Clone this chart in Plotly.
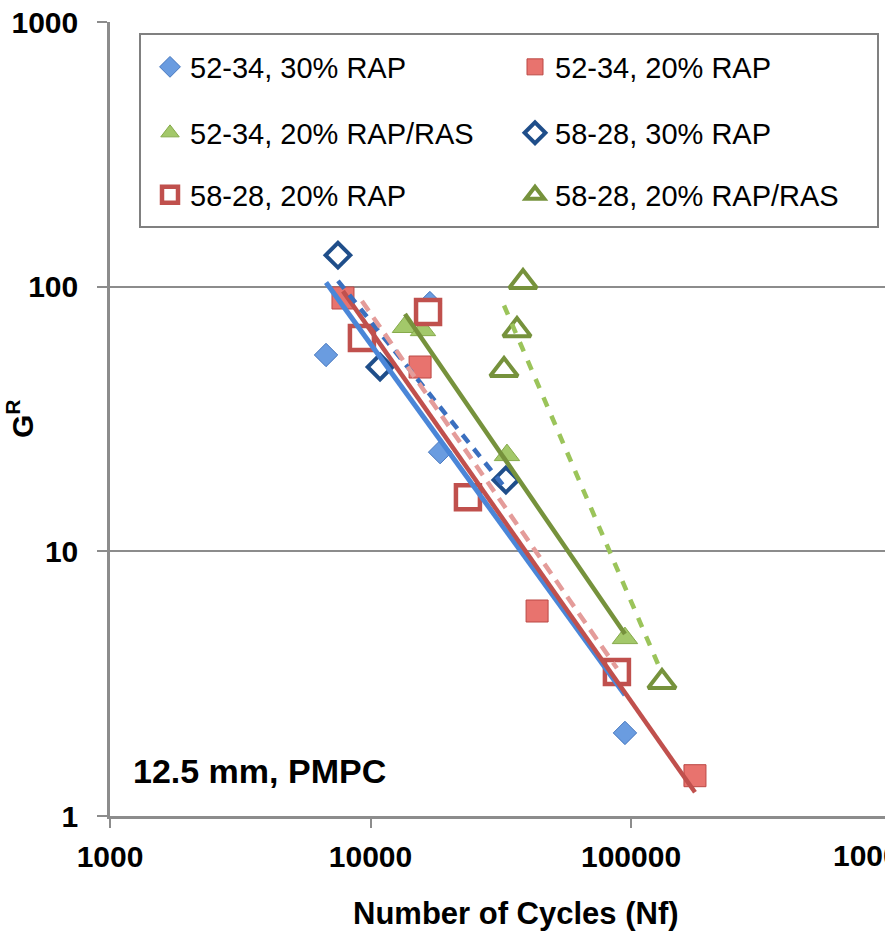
import numpy as np
import plotly.graph_objects as go

# ---------------- data ----------------
series_names = ["52-34, 30% RAP", "52-34, 20% RAP", "52-34, 20% RAP/RAS",
                "58-28, 30% RAP", "58-28, 20% RAP", "58-28, 20% RAP/RAS"]

s1_x = [6750, 16900, 18500, 94800]
s1_y = [55.2, 86.7, 23.7, 2.06]

s2_x = [7840, 15500, 43600, 176000]
s2_y = [90.6, 49.7, 5.95, 1.42]

s3_x = [13560, 15900, 33400, 94800]
s3_y = [70.4, 68.5, 23.1, 4.70]

s4_x = [7500, 10880, 33100]
s4_y = [131.5, 49.7, 18.6]

s5_x = [9270, 16630, 23660, 88300]
s5_y = [64.0, 80.2, 16.0, 3.50]

s6_x = [38500, 36500, 32550, 131500]
s6_y = [104.1, 68.5, 48.4, 3.21]

x_tickvals = [1000, 10000, 100000]
x_ticktext = ["1000", "10000", "100000"]
x_last_tick = "1000000"
y_tickvals = [1, 10, 100, 1000]
y_ticktext = ["1", "10", "100", "1000"]

# ---------------- styles ----------------
FONT = "Liberation Sans, Arial, sans-serif"
GRID = "#8C8C8C"

marker_styles = [
    dict(symbol="diamond", size=18, color="#6A9CE0", line=dict(color="#4576BE", width=1)),
    dict(symbol="square", size=22, color="#E8736E", line=dict(color="#BB4844", width=1)),
    dict(symbol="triangle-up", size=22, color="#A3C86A", line=dict(color="#86AA4B", width=1)),
    dict(symbol="diamond", size=19, color="white", line=dict(color="#1F4E8A", width=4)),
    dict(symbol="square", size=24, color="white", line=dict(color="#C0504D", width=4.5)),
    dict(symbol="triangle-up", size=24, color="white", line=dict(color="#76923C", width=4)),
]
trend_styles = [
    dict(color="#4A86D8", width=5, dash="solid"),
    dict(color="#C0504D", width=4.5, dash="solid"),
    dict(color="#76923C", width=4.5, dash="solid"),
    dict(color="#3A6FBF", width=4.5, dash="10px,8px"),
    dict(color="#E49C9A", width=4.5, dash="12px,8px"),
    dict(color="#9BC45A", width=4.5, dash="10px,10px"),
]

xs = [s1_x, s2_x, s3_x, s4_x, s5_x, s6_x]
ys = [s1_y, s2_y, s3_y, s4_y, s5_y, s6_y]
legend_ids = ["legend", "legend", "legend2", "legend2", "legend3", "legend3"]

fig = go.Figure()

for name, x, y, ms, lg in zip(series_names, xs, ys, marker_styles, legend_ids):
    fig.add_trace(go.Scatter(x=x, y=y, mode="markers", name=name, marker=ms,
                             legend=lg, showlegend=True))

# power-law trendlines (least squares in log-log space), drawn over markers
for x, y, ls in zip(xs, ys, trend_styles):
    lx, ly = np.log10(x), np.log10(y)
    b, a = np.polyfit(lx, ly, 1)
    xe = np.array([min(x), max(x)], dtype=float)
    ye = 10 ** (a + b * np.log10(xe))
    fig.add_trace(go.Scatter(x=xe, y=ye, mode="lines", line=ls,
                             showlegend=False, hoverinfo="skip"))

# ---------------- layout ----------------
L, T, R, B = 110, 22, 0, 121
W, H = 885, 937
pw, ph = W - L - R, H - T - B
decade_px = 260.5
x_max_log = 3 + pw / decade_px


def px_x(p):
    return (p - L) / pw


def px_y(p):
    return (T + ph - p) / ph


legend_common = dict(orientation="h", xanchor="left", yanchor="middle",
                     bgcolor="rgba(0,0,0,0)", borderwidth=0,
                     font=dict(family=FONT, size=29, color="black"),
                     entrywidth=320, entrywidthmode="pixels", itemclick=False)

fig.update_layout(
    width=W, height=H,
    margin=dict(l=L, r=R, t=T, b=B),
    paper_bgcolor="white", plot_bgcolor="white",
    font=dict(family=FONT, color="black"),
    legend=dict(x=px_x(150), y=px_y(67), **legend_common),
    legend2=dict(x=px_x(150), y=px_y(133), **legend_common),
    legend3=dict(x=px_x(150), y=px_y(195), **legend_common),
    xaxis=dict(type="log", range=[3, x_max_log], tickvals=x_tickvals, ticktext=x_ticktext,
               showgrid=False, showline=True, linecolor=GRID, linewidth=2.5,
               ticks="outside", ticklen=9, tickwidth=2, tickcolor=GRID,
               tickfont=dict(family=FONT, size=30, color="black", weight="bold"),
               ticklabelstandoff=3, zeroline=False),
    yaxis=dict(type="log", range=[0, 3], tickvals=y_tickvals, ticktext=y_ticktext,
               showgrid=True, gridcolor=GRID, gridwidth=2,
               showline=True, linecolor=GRID, linewidth=2.5,
               ticks="outside", ticklen=10, tickwidth=2, tickcolor=GRID,
               tickfont=dict(family=FONT, size=30, color="black", weight="bold"),
               ticklabelstandoff=13, zeroline=False),
    shapes=[dict(type="rect", xref="paper", yref="paper",
                 x0=px_x(140), x1=px_x(878), y0=px_y(227), y1=px_y(34),
                 line=dict(color="#808080", width=2), fillcolor="white", layer="below")],
    annotations=[
        dict(text="<b>12.5 mm, PMPC</b>", xref="paper", yref="paper",
             x=px_x(131), y=px_y(771), xanchor="left", yanchor="middle",
             showarrow=False, font=dict(family=FONT, size=34, color="black")),
        dict(text="<b>Number of Cycles (Nf)</b>", xref="paper", yref="paper",
             x=px_x(516), y=px_y(913), xanchor="center", yanchor="middle",
             showarrow=False, font=dict(family=FONT, size=31, color="black")),
        dict(text="<b>G<sup>R</sup></b>", xref="paper", yref="paper",
             x=px_x(20), y=0.5, xanchor="center", yanchor="middle", textangle=-90,
             showarrow=False, font=dict(family=FONT, size=30, color="black")),
        dict(text="<b>" + x_last_tick + "</b>", xref="paper", yref="paper",
             x=(6 - 3) / (x_max_log - 3), y=px_y(855), xanchor="center", yanchor="middle",
             showarrow=False, font=dict(family=FONT, size=30, color="black")),
    ],
)

fig.write_html("out.html")
